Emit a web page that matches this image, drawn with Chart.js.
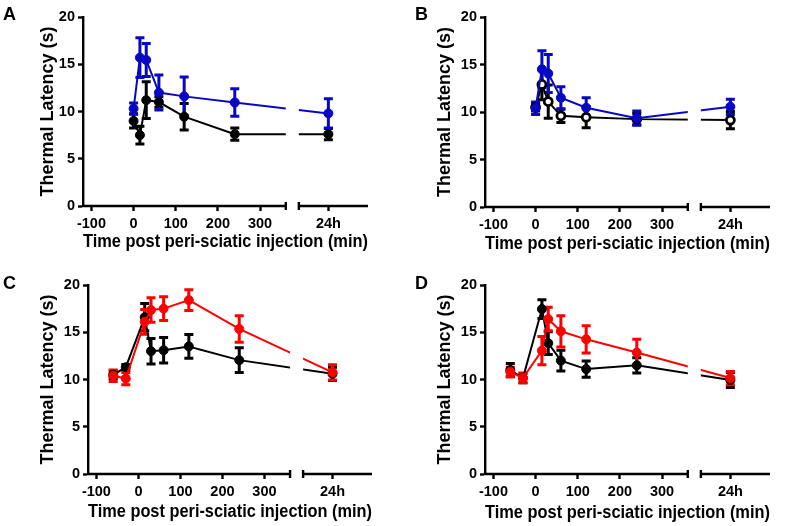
<!DOCTYPE html>
<html>
<head>
<meta charset="utf-8">
<script src="https://cdn.jsdelivr.net/npm/chart.js@4.4.1/dist/chart.umd.min.js"></script>
<style>
  body { margin: 0; background: #fff; }
  #wrap { position: relative; width: 787px; height: 526px; }
  canvas { position: absolute; }
  .lbl { position: absolute; font: bold 18px "Liberation Sans", Arial, sans-serif; line-height: 18px; color: #000; }
</style>
</head>
<body>
<div id="wrap">
  <canvas id="cA" width="393" height="263" style="left:0;top:0"></canvas>
  <canvas id="cB" width="394" height="263" style="left:393px;top:0"></canvas>
  <canvas id="cC" width="393" height="263" style="left:0;top:263px"></canvas>
  <canvas id="cD" width="394" height="263" style="left:393px;top:263px"></canvas>
  <div class="lbl" style="left:3px;top:5px">A</div>
  <div class="lbl" style="left:415px;top:5px">B</div>
  <div class="lbl" style="left:3px;top:274px">C</div>
  <div class="lbl" style="left:415px;top:274px">D</div>
</div>
<script>
// ejes
const yTicks = [0, 5, 10, 15, 20];
const xTicks = [-100, 0, 100, 200, 300];
const dayLabel = "24h";
const xTitle = "Time post peri-sciatic injection (min)";
const yTitle = "Thermal Latency (s)";

// tiempos
const timesAB = [0, 15, 30, 60, 120, 240, "24h"];
const timesCD = [-60, -30, 15, 30, 60, 120, 240, "24h"];

// panel A
const aBlue = [10.3, 15.7, 15.45, 12.0, 11.6, 10.95, 9.8];
const aBlueErr = [0.6, 2.1, 1.75, 1.85, 2.05, 1.45, 1.55];
const aBlack = [9.0, 7.5, 11.2, 11.0, 9.45, 7.6, 7.6];
const aBlackErr = [0.75, 0.95, 1.95, 0.55, 1.4, 0.65, 0.6];

// panel B
const bBlue = [10.4, 14.5, 14.05, 11.5, 10.45, 9.35, 10.55];
const bBlueErr = [0.65, 1.95, 2.0, 1.15, 1.05, 0.75, 0.8];
const bOpen = [10.5, 12.9, 11.1, 9.6, 9.45, 9.25, 9.15];
const bOpenErr = [0.4, 1.6, 1.75, 0.7, 1.1, 0.6, 0.9];

// panel C
const cRed = [10.4, 10.1, 16.1, 17.35, 17.5, 18.4, 15.35, 10.75];
const cRedErr = [0.6, 0.65, 1.3, 1.3, 1.25, 1.1, 1.4, 0.8];
const cBlack = [10.5, 11.3, 16.6, 13.0, 13.1, 13.5, 12.05, 10.6];
const cBlackErr = [0.4, 0.3, 1.45, 1.35, 1.35, 1.25, 1.3, 0.7];

// panel D
const dRed = [10.8, 10.15, 13.05, 16.4, 15.1, 14.25, 12.85, 10.15];
const dRedErr = [0.5, 0.5, 1.5, 1.25, 1.65, 1.45, 1.4, 0.7];
const dBlack = [11.0, 10.15, 17.45, 13.85, 12.0, 11.1, 11.5, 9.95];
const dBlackErr = [0.7, 0.5, 1.0, 1.2, 1.1, 0.85, 0.8, 0.8];

const BLUE = "#0808c4";
const RED = "#ff0000";
const BLACK = "#000000";

// posicion del eje con corte: 24h se coloca despues del corte
const X_MIN = -120, X_MAX = 556, DAY_POS = 462, GAP_LO = 361, GAP_HI = 392;
const xPos = (t) => (t === dayLabel ? DAY_POS : t);

const FONT = '"Liberation Sans", Arial, sans-serif';

function serie(times, vals, errs, color, open) {
  return {
    data: times.map((t, i) => ({ x: xPos(t), y: vals[i] })),
    errors: errs,
    borderColor: color,
    backgroundColor: open ? "#ffffff" : color,
    borderWidth: 2,
    pointRadius: open ? 4 : 4.5,
    pointBorderWidth: open ? 2.8 : 1,
    pointBackgroundColor: open ? "#ffffff" : color,
    pointBorderColor: color,
    tension: 0,
    fill: false,
  };
}

// barras de error
const errorBars = {
  id: "errorBars",
  beforeDatasetsDraw(chart) {
    const ctx = chart.ctx;
    const y = chart.scales.y;
    for (let di = chart.data.datasets.length - 1; di >= 0; di--) {
      const ds = chart.data.datasets[di];
      const meta = chart.getDatasetMeta(di);
      ctx.save();
      ctx.strokeStyle = ds.borderColor;
      ctx.lineWidth = 3;
      meta.data.forEach((pt, i) => {
        const m = ds.data[i].y, e = ds.errors[i];
        const top = y.getPixelForValue(m + e);
        const bot = y.getPixelForValue(m - e);
        ctx.beginPath();
        ctx.moveTo(pt.x, top); ctx.lineTo(pt.x, bot);
        ctx.moveTo(pt.x - 4.5, top); ctx.lineTo(pt.x + 4.5, top);
        ctx.moveTo(pt.x - 4.5, bot); ctx.lineTo(pt.x + 4.5, bot);
        ctx.stroke();
      });
      ctx.restore();
    }
  },
};

// corte del eje x
const axisBreak = {
  id: "axisBreak",
  afterDatasetsDraw(chart) {
    const { ctx, chartArea: a, scales: { x } } = chart;
    const x0 = x.getPixelForValue(GAP_LO), x1 = x.getPixelForValue(GAP_HI);
    ctx.save();
    ctx.fillStyle = "#ffffff";
    ctx.fillRect(x0, 0, x1 - x0, a.bottom - 1);
    ctx.restore();
  },
  afterDraw(chart) {
    const { ctx, chartArea: a, scales: { x } } = chart;
    const x0 = x.getPixelForValue(GAP_LO), x1 = x.getPixelForValue(GAP_HI);
    const yb = a.bottom;
    ctx.save();
    ctx.strokeStyle = "#000";
    ctx.lineWidth = 2.4;
    ctx.beginPath();
    ctx.moveTo(a.left - 1, yb); ctx.lineTo(x0, yb);
    ctx.moveTo(x1, yb); ctx.lineTo(a.right, yb);
    ctx.moveTo(x0, yb - 4); ctx.lineTo(x0, yb + 4);
    ctx.moveTo(x1, yb - 4); ctx.lineTo(x1, yb + 4);
    ctx.stroke();
    ctx.restore();
  },
};

function crearPanel(id, area, pads, datasets) {
  const canvas = document.getElementById(id);
  const W = canvas.width, H = canvas.height;
  return new Chart(canvas.getContext("2d"), {
    type: "line",
    data: { datasets: datasets },
    plugins: [errorBars, axisBreak],
    options: {
      responsive: false,
      animation: false,
      layout: { padding: { left: 0, top: area.top, right: W - area.right, bottom: 0 } },
      plugins: { legend: { display: false }, tooltip: { enabled: false } },
      scales: {
        x: {
          type: "linear",
          min: X_MIN,
          max: X_MAX,
          afterBuildTicks: (s) => {
            s.ticks = xTicks.concat([DAY_POS]).map((v) => ({ value: v }));
          },
          afterFit: (s) => { s.height = H - area.bottom; },
          ticks: {
            autoSkip: false,
            maxRotation: 0,
            padding: 4,
            color: "#000",
            font: { family: FONT, size: 14.5, weight: "bold" },
            callback: (v) => (v === DAY_POS ? dayLabel : v),
          },
          grid: { drawOnChartArea: false, drawTicks: true, tickLength: 5, tickWidth: 2.4, color: "#000" },
          border: { display: false },
          title: {
            display: true,
            text: xTitle,
            color: "#000",
            font: { family: FONT, size: 18, weight: "bold" },
            padding: { top: 0, bottom: pads.x },
          },
        },
        y: {
          min: 0,
          max: 20,
          afterBuildTicks: (s) => { s.ticks = yTicks.map((v) => ({ value: v })); },
          afterFit: (s) => { s.width = area.left; },
          ticks: {
            padding: 3,
            color: "#000",
            font: { family: FONT, size: 14.5, weight: "bold" },
          },
          grid: { drawOnChartArea: false, drawTicks: true, tickLength: 5, tickWidth: 2.4, color: "#000" },
          border: { display: true, width: 2.4, color: "#000" },
          title: {
            display: true,
            text: yTitle,
            color: "#000",
            font: { family: FONT, size: 18, weight: "bold" },
            padding: { top: pads.y, bottom: 0 },
          },
        },
      },
    },
  });
}

crearPanel("cA", { left: 83, top: 17, right: 368, bottom: 206 }, { x: 10, y: 37 }, [
  serie(timesAB, aBlue, aBlueErr, BLUE, false),
  serie(timesAB, aBlack, aBlackErr, BLACK, false),
]);
crearPanel("cB", { left: 92, top: 17, right: 377, bottom: 207 }, { x: 8, y: 41 }, [
  serie(timesAB, bBlue, bBlueErr, BLUE, false),
  serie(timesAB, bOpen, bOpenErr, BLACK, true),
]);
crearPanel("cC", { left: 88, top: 22, right: 372, bottom: 211 }, { x: 3, y: 37 }, [
  serie(timesCD, cRed, cRedErr, RED, false),
  serie(timesCD, cBlack, cBlackErr, BLACK, false),
]);
crearPanel("cD", { left: 92, top: 22, right: 377, bottom: 211 }, { x: 2, y: 41 }, [
  serie(timesCD, dRed, dRedErr, RED, false),
  serie(timesCD, dBlack, dBlackErr, BLACK, false),
]);
</script>
</body>
</html>
